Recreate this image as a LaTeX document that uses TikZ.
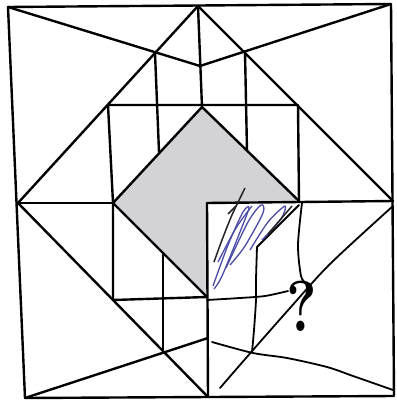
\documentclass[tikz,border=0pt]{standalone}
\usepackage{fontspec}
\begin{document}
\begin{tikzpicture}[x=1pt,y=-1pt,
  ln/.style={line width=2.4pt,line join=round,line cap=round},
  hd/.style={line width=1.8pt,line join=round,line cap=round},
  scr/.style={line width=1.3pt,color=blue!50!black!70,line join=round},
  scrk/.style={line width=1.5pt,color=black!85,line join=round}]
\definecolor{speck}{RGB}{210,210,215}
\useasboundingbox (0,0) rectangle (396,401);
\fill[white] (0,0) rectangle (396,401);
% key points
\coordinate (TL) at (8,7);   \coordinate (TR) at (391,4);
\coordinate (BR) at (394,396); \coordinate (BL) at (25,398);
\coordinate (TM) at (198,6); \coordinate (BM) at (208,397);
\coordinate (LM) at (18,203); \coordinate (RM) at (393,201);
\coordinate (A) at (200,66);
\coordinate (K1) at (155,53); \coordinate (K2) at (245,52);
\coordinate (K3) at (163,350); \coordinate (B) at (208,338);
\coordinate (ITL) at (108,105); \coordinate (ITR) at (298,105);
\coordinate (IBL) at (113,300);
\coordinate (DT) at (202,107); \coordinate (DL) at (113,203);
\coordinate (DB) at (207,297); \coordinate (DR) at (299,201);
\coordinate (C) at (207,203);
\coordinate (V1) at (159,152); \coordinate (V2) at (247,151);
\coordinate (V3) at (163,253);
% shaded diamond (three quarters)
\fill[speck] (DT) -- (DR) -- (C) -- (DB) -- (DL) -- cycle;
% printed lines
\draw[ln] (TL) -- (TR) -- (BR) -- (BL) -- cycle;
\draw[ln] (TL) -- (A) -- (TR);
\draw[ln] (LM) -- (TM) -- (RM);
\draw[ln] (LM) -- (BM);
\draw[ln] (TM) -- (DT);
\draw[ln] (C) -- (BM);
\draw[ln] (LM) -- (DL);
\draw[ln] (C) -- (RM);
\draw[ln] (ITL) -- (ITR) -- (DR);
\draw[ln] (ITL) -- (DL) -- (IBL) -- (DB);
\draw[ln] (DR) -- (DT) -- (DL) -- (DB);
\draw[ln] (K1) -- (V1);
\draw[ln] (K2) -- (V2);
\draw[ln] (K3) -- (V3);
\draw[ln] (BL) -- (B);
% hand-drawn answer
\draw[hd] plot[smooth] coordinates {(302,203) (298,245) (301,276) (306,283)};
\draw[hd] plot[smooth] coordinates {(207,300) (240,298) (265,296) (288,291)};
\draw[hd] plot[smooth] coordinates {(257,247) (256,280) (256,300) (254,330) (252,352)};
\draw[hd] plot[smooth] coordinates {(212,342) (253,353) (287,358) (327,367) (353,376) (393,390)};
\draw[hd] plot[smooth] coordinates {(393,206) (330,264) (290,308) (253,350) (220,388)};
\draw[hd] (299,205) -- (257,247);
% scribbles
\draw[scrk] plot[smooth] coordinates {(245,188) (232,215) (222,240) (214,262)};
\draw[scr] plot[smooth] coordinates {(213,286) (228,245) (243,212) (249,208) (240,232) (222,276) (214,289)};
\draw[scr] plot[smooth] coordinates {(226,268) (248,222) (261,205) (263,213) (245,246) (230,265)};
\draw[scr] plot[smooth] coordinates {(250,250) (268,222) (285,206) (281,219) (262,240)};
\draw[scr] plot[smooth] coordinates {(218,262) (236,228) (252,206)};
\draw[scrk] plot[smooth] coordinates {(268,234) (292,206)};
\draw[scrk] plot[smooth] coordinates {(228,214) (236,206)};
% question mark
\node[font=\fontsize{72}{72}\selectfont\bfseries,inner sep=0pt,xscale=0.8] (q) at (302,306) {?};
\end{tikzpicture}
\end{document}
